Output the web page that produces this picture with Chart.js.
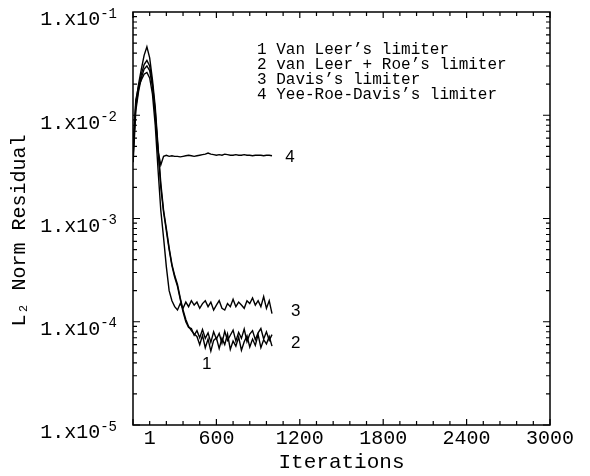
<!DOCTYPE html>
<html>
<head>
<meta charset="utf-8">
<title>L2 Norm Residual</title>
<script src="https://cdn.jsdelivr.net/npm/chart.js"></script>
<style>
  html, body { margin: 0; padding: 0; background: #fff; }
  #residChart { display: block; }
</style>
</head>
<body>
<canvas id="residChart" width="590" height="476"></canvas>
<script>

// iteration grid shared by all four runs
var iterations = [1, 20, 40, 60, 80, 100, 120, 140, 160, 180, 200, 220, 240, 260, 280, 300, 320, 340, 360, 380,
  400, 420, 440, 460, 480, 500, 520, 540, 560, 580, 600, 620, 640, 660, 680, 700, 720, 740, 760, 780,
  800, 820, 840, 860, 880, 900, 920, 940, 960, 980, 1000];

// 1 Van Leer's limiter
var vanLeer = [4.0e-3, 1.3e-2, 2.0e-2, 2.8e-2, 3.8e-2, 4.6e-2, 3.6e-2, 2.2e-2, 1.2e-2, 5.0e-3, 2.2e-3, 1.2e-3, 8.0e-4, 5.2e-4, 3.6e-4, 2.8e-4, 2.3e-4, 1.7e-4, 1.3e-4, 1.05e-4,
  9.0e-5, 8.2e-5, 7.6e-5, 7.2e-5, 6.0e-5, 7.4e-5, 5.6e-5, 6.8e-5, 5.2e-5, 6.6e-5, 7.0e-5, 5.5e-5, 6.9e-5, 6.0e-5, 7.6e-5, 5.4e-5, 6.5e-5, 5.8e-5, 7.1e-5, 5.3e-5,
  6.4e-5, 7.3e-5, 5.7e-5, 6.8e-5, 5.9e-5, 7.5e-5, 5.6e-5, 6.7e-5, 6.1e-5, 7.2e-5, 5.8e-5];

// 2 van Leer + Roe's limiter
var vanLeerRoe = [4.5e-3, 1.2e-2, 1.8e-2, 2.5e-2, 3.1e-2, 3.4e-2, 3.0e-2, 2.0e-2, 1.1e-2, 4.6e-3, 2.0e-3, 1.15e-3, 7.6e-4, 5.0e-4, 3.5e-4, 2.7e-4, 2.2e-4, 1.65e-4, 1.25e-4, 1.0e-4,
  8.8e-5, 8.6e-5, 7.4e-5, 8.2e-5, 7.0e-5, 8.4e-5, 6.9e-5, 7.8e-5, 6.3e-5, 8.0e-5, 6.8e-5, 7.7e-5, 6.2e-5, 8.1e-5, 6.6e-5, 7.4e-5, 8.3e-5, 6.5e-5, 7.9e-5, 6.9e-5,
  8.5e-5, 6.4e-5, 7.6e-5, 8.2e-5, 6.7e-5, 7.8e-5, 8.6e-5, 6.8e-5, 8.0e-5, 6.6e-5, 7.5e-5];

// 3 Davis's limiter
var davis = [5.0e-3, 1.4e-2, 1.9e-2, 2.2e-2, 2.5e-2, 2.6e-2, 2.3e-2, 1.6e-2, 8.0e-3, 3.0e-3, 1.2e-3, 6.5e-4, 3.4e-4, 2.0e-4, 1.6e-4, 1.4e-4, 1.3e-4, 1.5e-4, 1.35e-4, 1.55e-4,
  1.4e-4, 1.6e-4, 1.45e-4, 1.55e-4, 1.35e-4, 1.5e-4, 1.6e-4, 1.4e-4, 1.55e-4, 1.3e-4, 1.45e-4, 1.6e-4, 1.35e-4, 1.3e-4, 1.5e-4, 1.4e-4, 1.65e-4, 1.4e-4, 1.55e-4, 1.45e-4,
  1.35e-4, 1.6e-4, 1.5e-4, 1.7e-4, 1.45e-4, 1.6e-4, 1.4e-4, 1.75e-4, 1.35e-4, 1.6e-4, 1.2e-4];

// 4 Yee-Roe-Davis's limiter
var yeeRoeDavis = [3.5e-3, 1.1e-2, 1.7e-2, 2.3e-2, 2.8e-2, 3.0e-2, 2.7e-2, 1.9e-2, 1.0e-2, 4.5e-3, 3.3e-3, 4.0e-3, 4.1e-3, 4.0e-3, 4.05e-3, 4.0e-3, 4.0e-3, 3.95e-3, 4.0e-3, 4.05e-3,
  4.1e-3, 4.05e-3, 4.0e-3, 4.05e-3, 4.1e-3, 4.15e-3, 4.2e-3, 4.3e-3, 4.2e-3, 4.15e-3, 4.1e-3, 4.15e-3, 4.1e-3, 4.2e-3, 4.15e-3, 4.1e-3, 4.1e-3, 4.15e-3, 4.1e-3, 4.1e-3,
  4.15e-3, 4.1e-3, 4.1e-3, 4.05e-3, 4.1e-3, 4.1e-3, 4.1e-3, 4.05e-3, 4.1e-3, 4.1e-3, 4.05e-3];

var seriesNames = ['Van Leer’s limiter', 'van Leer + Roe’s limiter', 'Davis’s limiter', 'Yee-Roe-Davis’s limiter'];
var seriesTags = ['1', '2', '3', '4'];

var xTickValues = [120, 600, 1200, 1800, 2400, 3000];
var xTickLabels = ['1', '600', '1200', '1800', '2400', '3000'];
var yTickValues = [1e-5, 1e-4, 1e-3, 1e-2, 1e-1];
var yTickBase = '1.x10';
var yTickExp = ['-5', '-4', '-3', '-2', '-1'];

var mono = "'Liberation Mono', 'Courier New', monospace";

function toPoints(ys) {
  return iterations.map(function(x, i) { return { x: x, y: ys[i] }; });
}

// where the 1..4 tags sit next to the curves (iteration, residual)
var tagSpots = [[530, 3.9e-5], [1170, 6.2e-5], [1170, 1.27e-4], [1130, 3.9e-3]];

var frameAndTicks = {
  id: 'frameAndTicks',
  afterDraw: function(chart) {
    var ctx = chart.ctx, a = chart.chartArea;
    var xs = chart.scales.x, ys = chart.scales.y;
    ctx.save();
    ctx.strokeStyle = '#000';
    ctx.lineWidth = 1.5;
    ctx.strokeRect(a.left, a.top, a.right - a.left, a.bottom - a.top);

    ctx.lineWidth = 1.2;
    ctx.beginPath();
    for (var v = 0; v <= 3000; v += 120) {
      var px = xs.getPixelForValue(v);
      var len = (v % 600 === 0) ? 6 : 4;
      ctx.moveTo(px, a.bottom); ctx.lineTo(px, a.bottom - len);
      ctx.moveTo(px, a.top); ctx.lineTo(px, a.top + len);
    }
    for (var d = -5; d < -1; d++) {
      for (var m = 1; m < 10; m++) {
        var py = ys.getPixelForValue(m * Math.pow(10, d));
        var l2 = (m === 1) ? 7 : 4;
        ctx.moveTo(a.left, py); ctx.lineTo(a.left + l2, py);
        ctx.moveTo(a.right, py); ctx.lineTo(a.right - l2, py);
      }
    }
    ctx.stroke();

    ctx.fillStyle = '#000';

    // y tick labels: 1.x10 with raised exponent
    ctx.textBaseline = 'middle';
    ctx.textAlign = 'left';
    yTickValues.forEach(function(val, i) {
      var y = ys.getPixelForValue(val) + 8;
      ctx.font = '14px ' + mono;
      var ew = ctx.measureText(yTickExp[i]).width;
      ctx.font = '20px ' + mono;
      var bw = ctx.measureText(yTickBase).width;
      var right = a.left - 16;
      ctx.fillText(yTickBase, right - ew - bw, y);
      ctx.font = '14px ' + mono;
      ctx.fillText(yTickExp[i], right - ew, y - 6);
    });

    // curve tags
    ctx.font = "17px 'Liberation Sans', Arial, sans-serif";
    ctx.textAlign = 'center';
    tagSpots.forEach(function(s, i) {
      ctx.fillText(seriesTags[i], xs.getPixelForValue(s[0]), ys.getPixelForValue(s[1]));
    });

    // legend block, no swatches
    ctx.font = '16px ' + mono;
    ctx.textAlign = 'left';
    seriesNames.forEach(function(name, i) {
      ctx.fillText(seriesTags[i] + ' ' + name, 257, 50 + i * 15);
    });
    ctx.restore();
  }
};

var ctx = document.getElementById('residChart').getContext('2d');
var residChart = new Chart(ctx, {
  type: 'line',
  data: {
    datasets: [
      { label: seriesNames[0], data: toPoints(vanLeer) },
      { label: seriesNames[1], data: toPoints(vanLeerRoe) },
      { label: seriesNames[2], data: toPoints(davis) },
      { label: seriesNames[3], data: toPoints(yeeRoeDavis) }
    ].map(function(ds) {
      ds.borderColor = '#000';
      ds.borderWidth = 1.4;
      ds.pointRadius = 0;
      ds.tension = 0;
      ds.fill = false;
      return ds;
    })
  },
  options: {
    responsive: false,
    animation: false,
    layout: { padding: { left: 0, right: 40, top: 12, bottom: 0 } },
    plugins: {
      legend: { display: false },
      tooltip: { enabled: false }
    },
    scales: {
      x: {
        type: 'linear',
        min: 0,
        max: 3000,
        afterBuildTicks: function(s) {
          s.ticks = xTickValues.map(function(v) { return { value: v }; });
        },
        afterFit: function(s) {
          s.height = 51;
          s.paddingLeft = 0;
          s.paddingRight = 0;
        },
        ticks: {
          autoSkip: false,
          maxRotation: 0,
          color: '#000',
          padding: 2,
          font: { family: mono, size: 20 },
          callback: function(v, i) { return xTickLabels[i]; }
        },
        grid: { display: false, drawTicks: false },
        border: { display: false },
        title: {
          display: true,
          text: 'Iterations',
          color: '#000',
          font: { family: mono, size: 21 },
          padding: { top: 0, bottom: 1 }
        }
      },
      y: {
        type: 'logarithmic',
        min: 1e-5,
        max: 1e-1,
        afterBuildTicks: function(s) {
          s.ticks = yTickValues.map(function(v) { return { value: v }; });
        },
        afterFit: function(s) {
          s.width = 133;
          s.paddingTop = 0;
          s.paddingBottom = 0;
        },
        ticks: { display: false },
        grid: { display: false, drawTicks: false },
        border: { display: false },
        title: {
          display: true,
          text: 'L₂ Norm Residual  ',
          color: '#000',
          font: { family: mono, size: 20 },
          padding: { top: 8, bottom: 0 }
        }
      }
    }
  },
  plugins: [frameAndTicks]
});

</script>
</body>
</html>
